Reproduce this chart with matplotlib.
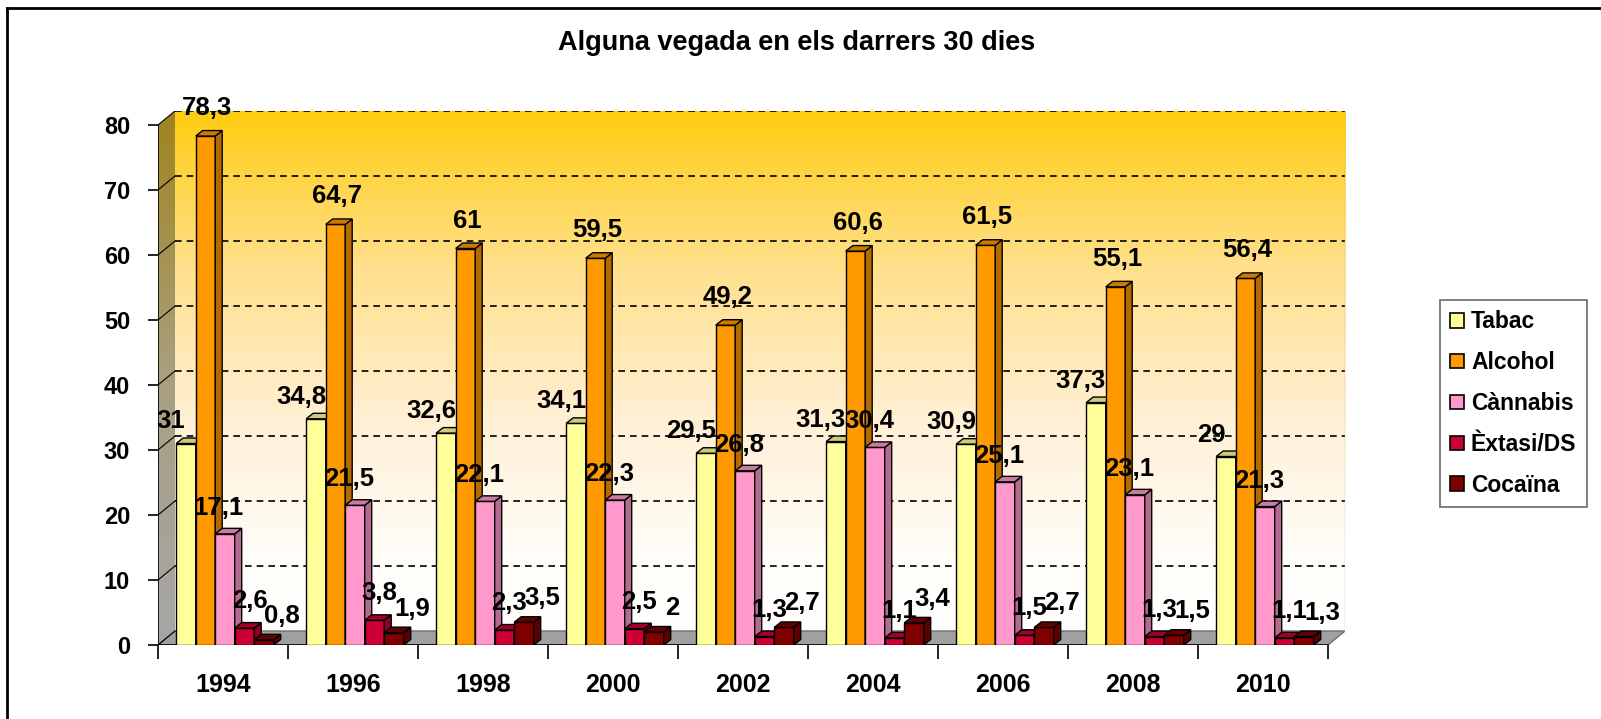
import numpy as np
import matplotlib
matplotlib.use("Agg")
import matplotlib.pyplot as plt
from matplotlib.patches import Polygon, Patch
from matplotlib.colors import LinearSegmentedColormap
from matplotlib.lines import Line2D

plt.rcParams['font.family'] = ['Liberation Sans', 'DejaVu Sans']
plt.rcParams['font.weight'] = 'bold'

# data
years = ['1994', '1996', '1998', '2000', '2002', '2004', '2006', '2008', '2010']
tabac = [31, 34.8, 32.6, 34.1, 29.5, 31.3, 30.9, 37.3, 29]
alcohol = [78.3, 64.7, 61, 59.5, 49.2, 60.6, 61.5, 55.1, 56.4]
cannabis = [17.1, 21.5, 22.1, 22.3, 26.8, 30.4, 25.1, 23.1, 21.3]
extasi = [2.6, 3.8, 2.3, 2.5, 1.3, 1.1, 1.5, 1.3, 1.1]
cocaina = [0.8, 1.9, 3.5, 2, 2.7, 3.4, 2.7, 1.5, 1.3]
series_names = ['Tabac', 'Alcohol', 'Cànnabis', 'Èxtasi/DS', 'Cocaïna']

series = [tabac, alcohol, cannabis, extasi, cocaina]
# front, side, top colours
colors = [('#FFFF99', '#B3B36B', '#CCCC7A'),
          ('#FF9900', '#B36B00', '#CC7A00'),
          ('#FF99CC', '#B36B8F', '#CC7AA3'),
          ('#CC0033', '#8F0024', '#A30029'),
          ('#800000', '#5A0000', '#660000')]
# label offsets in pixels (dx, dy) per series
lab_off = [(-15, 22), (2, 28), (-6, 26), (5, 27), (18, 24)]

W, H = 1601, 719
fig = plt.figure(figsize=(W / 100, H / 100), dpi=100)

n = len(years)
ymax = 80
px_x = 130.0   # pixels per category
px_y = 6.5     # pixels per unit
dxb, dyb = 17 / px_x, 14 / px_y      # wall depth
dxs, dys = 7 / px_x, 5.5 / px_y      # bar depth

left_px, base_px = 158, 645
ax_w = px_x * (n + dxb)
ax_h = px_y * (ymax + dyb)
ax = fig.add_axes([left_px / W, (H - base_px) / H, ax_w / W, ax_h / H])
ax.set_xlim(0, n + dxb)
ax.set_ylim(0, ymax + dyb)
for s in ax.spines.values():
    s.set_visible(False)

# back wall gradient
cmap = LinearSegmentedColormap.from_list('wall', [(0, 'white'), (0.15, '#FFFDF8'), (0.4, '#FFF0D6'),
                                                  (0.7, '#FFE08C'), (1, '#FFCC11')])
grad = np.linspace(0, 1, 256).reshape(-1, 1)
ax.imshow(grad, extent=(dxb, n + dxb, dyb, ymax + dyb), origin='lower', cmap=cmap,
          aspect='auto', zorder=0, interpolation='bicubic')

# left wall gradient
side_cmap = LinearSegmentedColormap.from_list('side', [(0, '#A6A6A6'), (0.5, '#A8A080'), (1, '#A08420')])
side_poly = Polygon([(0, 0), (dxb, dyb), (dxb, ymax + dyb), (0, ymax)], closed=True,
                    facecolor='none', edgecolor='none', transform=ax.transData)
ax.add_patch(side_poly)
im = ax.imshow(grad, extent=(0, dxb, 0, ymax + dyb), origin='lower', cmap=side_cmap,
               aspect='auto', zorder=0.5)
im.set_clip_path(side_poly)

# floor
ax.add_patch(Polygon([(0, 0), (n, 0), (n + dxb, dyb), (dxb, dyb)], closed=True,
                     facecolor='#A0A0A0', edgecolor='#6E6E6E', lw=1, zorder=1))

# gridlines
for v in range(10, ymax + 1, 10):
    ax.plot([dxb, n + dxb], [v + dyb, v + dyb], color='black', ls=(0, (4, 3)), lw=1.2, zorder=1)
for v in range(0, ymax + 1, 10):
    ax.plot([0, dxb], [v, v + dyb], color='black', lw=0.8, zorder=1)
ax.plot([n + dxb, n + dxb], [dyb, ymax + dyb], color='#BBBBBB', lw=1, zorder=1)

# axis lines
ax.plot([0, 0], [0, ymax], color='black', lw=1.2, zorder=2)
ax.plot([0, n], [0, 0], color='black', lw=1.2, zorder=2)

# bars with fake depth
bw = 0.15
start = 0.14
for i in range(n):
    for k, vals in enumerate(series):
        x = i + start + k * bw
        h = vals[i]
        fc, sc, tc = colors[k]
        ax.bar(x, h, width=bw, align='edge', color=fc, edgecolor='black', lw=1, zorder=3)
        ax.add_patch(Polygon([(x + bw, 0), (x + bw + dxs, dys), (x + bw + dxs, h + dys), (x + bw, h)],
                             closed=True, facecolor=sc, edgecolor='black', lw=1, zorder=3))
        ax.add_patch(Polygon([(x, h), (x + bw, h), (x + bw + dxs, h + dys), (x + dxs, h + dys)],
                             closed=True, facecolor=tc, edgecolor='black', lw=1, zorder=3))

# data labels
for i in range(n):
    for k, vals in enumerate(series):
        x = i + start + (k + 0.5) * bw
        h = vals[i]
        txt = ('%g' % h).replace('.', ',')
        ax.annotate(txt, (x, h), xytext=lab_off[k], textcoords='offset pixels',
                    ha='center', va='center', fontsize=18.5, fontweight='bold', zorder=10,
                    annotation_clip=False)

# ticks
ax.set_yticks(range(0, ymax + 1, 10))
ax.tick_params(axis='y', length=7, width=1.2, pad=13, labelsize=17)
ax.set_xticks(range(0, n + 1))
ax.set_xticklabels([])
ax.tick_params(axis='x', which='major', length=10, width=1.2)
ax.set_xticks(np.arange(n) + 0.5, minor=True)
ax.set_xticklabels(years, minor=True)
ax.tick_params(axis='x', which='minor', length=0, pad=20, labelsize=18)

fig.text(797 / W, 1 - 43 / H, 'Alguna vegada en els darrers 30 dies', ha='center', va='center',
         fontsize=19.5, fontweight='bold')

handles = [Patch(facecolor=c[0], edgecolor='black', lw=1.2) for c in colors]
leg = fig.legend(handles, series_names, loc='upper left', bbox_to_anchor=(1440 / W, 1 - 300 / H),
                 prop={'size': 16.5, 'weight': 'bold'}, handlelength=0.6, handleheight=0.6,
                 handletextpad=0.3, labelspacing=0.78, borderpad=0.45, fancybox=False,
                 frameon=True, edgecolor='#444444', borderaxespad=0)
leg.get_frame().set_linewidth(1.2)

# outer border
fig.add_artist(Line2D([7 / W, 7 / W], [0, 1 - 8 / H], color='black', lw=2, transform=fig.transFigure))
fig.add_artist(Line2D([7 / W, 1], [1 - 8 / H, 1 - 8 / H], color='black', lw=2, transform=fig.transFigure))

fig.savefig('out.png', dpi=100)
